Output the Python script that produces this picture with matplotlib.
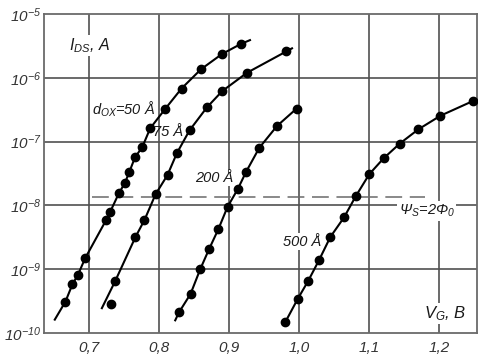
import matplotlib
matplotlib.use("Agg")
import matplotlib.pyplot as plt
from matplotlib.ticker import FixedLocator, FixedFormatter, NullLocator

plt.rcParams["font.family"] = ["Liberation Sans", "DejaVu Sans"]
plt.rcParams["font.style"] = "italic"
plt.rcParams["mathtext.fontset"] = "custom"
plt.rcParams["mathtext.rm"] = "Liberation Sans:italic"
plt.rcParams["mathtext.it"] = "Liberation Sans:italic"
plt.rcParams["mathtext.default"] = "it"

# measured points (V_G in volts, I_DS in amperes)
vg_50 = [0.6666, 0.6766, 0.6843, 0.6947, 0.7247, 0.7304, 0.7429, 0.7514, 0.7576,
         0.7661, 0.7761, 0.7876, 0.8094, 0.8323, 0.8600, 0.8900, 0.9170]
ids_50 = [3.1e-10, 5.8e-10, 8.1e-10, 1.48e-9, 5.9e-9, 7.9e-9, 1.55e-8, 2.24e-8, 3.3e-8,
          5.75e-8, 8.1e-8, 1.62e-7, 3.3e-7, 6.8e-7, 1.36e-6, 2.36e-6, 3.4e-6]

vg_75 = [0.7376, 0.7666, 0.7794, 0.7952, 0.8123, 0.8257, 0.8437, 0.8686, 0.8904,
         0.9257, 0.9820]
ids_75 = [6.5e-10, 3.2e-9, 5.9e-9, 1.49e-8, 3.0e-8, 6.6e-8, 1.5e-7, 3.45e-7, 6.2e-7,
          1.2e-6, 2.6e-6]
vg_75_outlier = [0.7314]
ids_75_outlier = [2.9e-10]

vg_200 = [0.8286, 0.8452, 0.8590, 0.8719, 0.8847, 0.8980, 0.9123, 0.9247, 0.9433,
          0.9686, 0.9966]
ids_200 = [2.1e-10, 4.1e-10, 1.0e-9, 2.1e-9, 4.2e-9, 9.5e-9, 1.78e-8, 3.4e-8, 8.0e-8,
           1.76e-7, 3.3e-7]

vg_500 = [0.9804, 0.9980, 1.0129, 1.0286, 1.0447, 1.0643, 1.0809, 1.1004, 1.1209,
          1.1437, 1.1700, 1.2019, 1.2476]
ids_500 = [1.48e-10, 3.4e-10, 6.5e-10, 1.39e-9, 3.2e-9, 6.5e-9, 1.39e-8, 3.1e-8,
           5.5e-8, 9.3e-8, 1.55e-7, 2.55e-7, 4.3e-7]

# where the drawn curves run past the measured points
start_50 = (0.6514, 1.62e-10)
end_50 = (0.930, 3.9e-6)
start_75 = (0.7186, 2.45e-10)
end_75 = (0.990, 2.9e-6)
start_200 = (0.8233, 1.58e-10)

psi_level = 1.36e-8
psi_span = (0.705, 1.180)

x_ticks = [0.7, 0.8, 0.9, 1.0, 1.1, 1.2]
x_labels = ["0,7", "0,8", "0,9", "1,0", "1,1", "1,2"]
y_ticks = [1e-10, 1e-9, 1e-8, 1e-7, 1e-6, 1e-5]
y_labels = [r"$10^{-10}$", r"$10^{-9}$", r"$10^{-8}$", r"$10^{-7}$", r"$10^{-6}$", r"$10^{-5}$"]

fig = plt.figure(figsize=(4.85, 3.6), dpi=100)
ax = fig.add_axes([0.0907, 0.075, 0.8928, 0.886])
ax.set_yscale("log")
ax.set_xlim(0.636, 1.254)
ax.set_ylim(1e-10, 1e-5)

grid_kw = dict(color="#505050", linewidth=1.2, zorder=1)
for x in x_ticks:
    ax.axvline(x, **grid_kw)
for y in y_ticks[1:-1]:
    ax.axhline(y, **grid_kw)

ax.plot(psi_span, [psi_level, psi_level], color="#6a6a6a", linewidth=1.1,
        dashes=(11, 5), zorder=2)

curves = [
    ([start_50[0]] + vg_50 + [end_50[0]], [start_50[1]] + ids_50 + [end_50[1]]),
    ([start_75[0]] + vg_75 + [end_75[0]], [start_75[1]] + ids_75 + [end_75[1]]),
    ([start_200[0]] + vg_200, [start_200[1]] + ids_200),
    (vg_500, ids_500),
]
for xs, ys in curves:
    ax.plot(xs, ys, color="black", linewidth=1.5, zorder=3)

for xs, ys in [(vg_50, ids_50), (vg_75, ids_75), (vg_75_outlier, ids_75_outlier),
               (vg_200, ids_200), (vg_500, ids_500)]:
    ax.plot(xs, ys, "o", color="black", markersize=6, zorder=4)

box = dict(facecolor="white", edgecolor="none", pad=1.0)
txt_kw = dict(fontsize=10.5, color="#1a1a1a", va="center", ha="left", zorder=5)
ax.text(0.671, 10 ** -5.49, r"$I_{DS}$, $A$", bbox=box, **dict(txt_kw, fontsize=11.5))
ax.text(1.178, 10 ** -9.69, r"$V_{G}$, $B$", bbox=box, **dict(txt_kw, fontsize=12))
ax.text(0.7047, 10 ** -6.50, r"$d_{OX}$=50 Å", **txt_kw)
ax.text(0.7919, 10 ** -6.85, "75 Å", **txt_kw)
ax.text(0.852, 10 ** -7.57, "200 Å", bbox=box, **txt_kw)
ax.text(0.9776, 10 ** -8.57, "500 Å", bbox=box, **txt_kw)
ax.text(1.142, 10 ** -8.09, r"$\Psi_{S}$=2$\Phi_{0}$", bbox=box, **txt_kw)

ax.xaxis.set_major_locator(FixedLocator(x_ticks))
ax.xaxis.set_major_formatter(FixedFormatter(x_labels))
ax.yaxis.set_major_locator(FixedLocator(y_ticks))
ax.yaxis.set_major_formatter(FixedFormatter(y_labels))
ax.yaxis.set_minor_locator(NullLocator())
ax.tick_params(length=0, labelsize=11, colors="#333333")
ax.tick_params(axis="x", pad=6)
ax.tick_params(axis="y", pad=2)

for s in ax.spines.values():
    s.set_color("#6a6a6a")
    s.set_linewidth(1.3)

fig.savefig("out.png", dpi=100)
